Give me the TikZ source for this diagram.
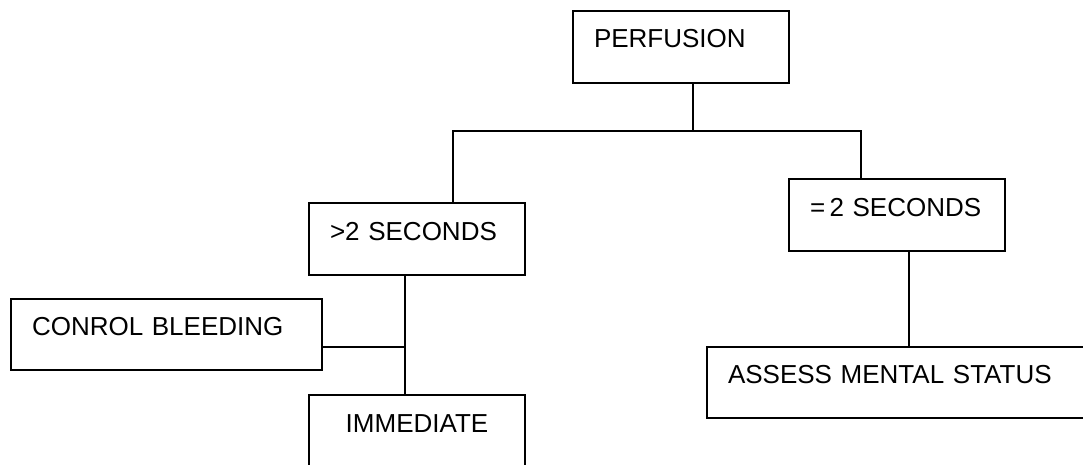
\documentclass[tikz,border=0pt]{standalone}
\usepackage{fontspec}
\setmainfont{Liberation Sans}
\usetikzlibrary{positioning, calc}

\begin{document}
\begin{tikzpicture}[
  x=1pt, y=1pt,
  line width=1.9pt,
  every node/.style={font=\fontsize{26}{31}\selectfont},
  box/.style={draw, line width=1.9pt, inner xsep=21pt, inner ysep=0pt,
    text height=37pt, text depth=35pt, text width=174pt, align=left},
  wide box/.style={box, text height=36pt, text depth=35pt}
]
\clip (0,0) rectangle (1083,-465);

% top of the tree
\node[box] (perf) at (681,-47) {PERFUSION};
\node[box] (gt) at (417,-239) {>2 SECONDS};
\node[box] (eq) at (897,-215) {=\,2 SECONDS};

% left branch
\node[wide box, text width=269pt] (bleed) at (166.5,-334.5) {CONROL BLEEDING};
\node[box, align=center] (immed) at (417,-431) {IMMEDIATE};

% right branch
\node[wide box, text width=348pt] (assess) at (902,-382.5) {ASSESS MENTAL STATUS};

\coordinate (fork) at (693,-131);
\draw (fork |- perf.south) -- (fork);
\draw ([xshift=36pt]gt.north) |- (fork) -| ([xshift=-36pt]eq.north);

\coordinate (gtout) at ([xshift=-12pt]gt.south);
\draw (gtout) -- (gtout |- immed.north);
\draw ([yshift=-12.5pt]bleed.east) -- ([yshift=-12.5pt]bleed.east -| gtout);

\coordinate (eqout) at ([xshift=12pt]eq.south);
\draw (eqout) -- (eqout |- assess.north);

\end{tikzpicture}
\end{document}
